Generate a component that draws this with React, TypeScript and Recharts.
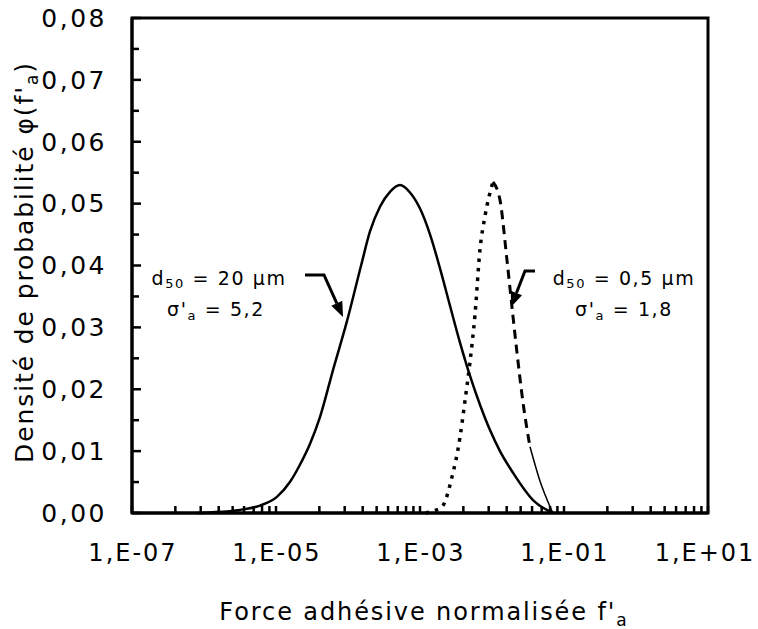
import React from 'react';
import { LineChart, Line, XAxis, YAxis, Customized } from 'recharts';

// --- data (f'a, phi) ---

// d50 = 20 µm, sigma'a = 5,2 (solid)
const coarseCurve = [
  { f: 8.0e-7, phi: 0 },
  { f: 1.21e-6, phi: 0.0001 },
  { f: 3.16e-6, phi: 0.0005 },
  { f: 6.0e-6, phi: 0.0012 },
  { f: 1.03e-5, phi: 0.0026 },
  { f: 1.56e-5, phi: 0.005 },
  { f: 2.15e-5, phi: 0.0078 },
  { f: 2.97e-5, phi: 0.0112 },
  { f: 4.08e-5, phi: 0.0155 },
  { f: 6.19e-5, phi: 0.0231 },
  { f: 9.68e-5, phi: 0.031 },
  { f: 1.52e-4, phi: 0.04 },
  { f: 2.02e-4, phi: 0.0455 },
  { f: 2.78e-4, phi: 0.0495 },
  { f: 3.83e-4, phi: 0.0519 },
  { f: 5.27e-4, phi: 0.053 },
  { f: 7.26e-4, phi: 0.0518 },
  { f: 1.0e-3, phi: 0.0492 },
  { f: 1.38e-3, phi: 0.045 },
  { f: 1.9e-3, phi: 0.0395 },
  { f: 2.61e-3, phi: 0.0335 },
  { f: 3.6e-3, phi: 0.0275 },
  { f: 4.94e-3, phi: 0.0222 },
  { f: 6.81e-3, phi: 0.0175 },
  { f: 9.38e-3, phi: 0.0134 },
  { f: 1.29e-2, phi: 0.01 },
  { f: 1.96e-2, phi: 0.0065 },
  { f: 3.71e-2, phi: 0.0021 },
  { f: 7.03e-2, phi: 0 },
];

// d50 = 0,5 µm, sigma'a = 1,8 : rising side (dotted)
const fineRise = [
  { f: 1.2e-3, phi: 0 },
  { f: 1.5e-3, phi: 0.0003 },
  { f: 2.02e-3, phi: 0.001 },
  { f: 2.78e-3, phi: 0.0058 },
  { f: 3.6e-3, phi: 0.0123 },
  { f: 4.2e-3, phi: 0.018 },
  { f: 4.9e-3, phi: 0.024 },
  { f: 5.8e-3, phi: 0.032 },
  { f: 6.8e-3, phi: 0.0425 },
  { f: 8.0e-3, phi: 0.048 },
  { f: 1.03e-2, phi: 0.0535 },
];

// falling side (dashed)
const fineFall = [
  { f: 1.03e-2, phi: 0.0535 },
  { f: 1.29e-2, phi: 0.0506 },
  { f: 1.61e-2, phi: 0.041 },
  { f: 1.96e-2, phi: 0.0317 },
  { f: 2.22e-2, phi: 0.026 },
  { f: 2.7e-2, phi: 0.0178 },
  { f: 3.37e-2, phi: 0.0107 },
];

// tail (thin solid)
const fineTail = [
  { f: 3.37e-2, phi: 0.0107 },
  { f: 4.6e-2, phi: 0.0053 },
  { f: 7.0e-2, phi: 0 },
];

const majorTicks = [1e-7, 1e-5, 1e-3, 1e-1, 1e1];
const majorLabels = ['1,E-07', '1,E-05', '1,E-03', '1,E-01', '1,E+01'];
const minorSteps = [4, 9, 16, 25, 36, 49, 64, 81];
const yTicks = [0, 0.005, 0.01, 0.015, 0.02, 0.025, 0.03, 0.035, 0.04, 0.045, 0.05, 0.055, 0.06, 0.065, 0.07, 0.075, 0.08];

const xTicks = majorTicks.flatMap((m, i) =>
  i < majorTicks.length - 1 ? [m, ...minorSteps.map((k) => m * k)] : [m]
);

const W = 758;
const H = 629;
const PL = 132;
const PT = 18;
const PR = 708;
const PB = 513;

const FONT = '"DejaVu Sans", Verdana, sans-serif';

const XTick = (props: any) => {
  const { x, y, payload } = props;
  const idx = majorTicks.indexOf(payload.value);
  return (
    <g>
      <line x1={x} x2={x} y1={y} y2={y - 7} stroke="#000" strokeWidth={2.5} />
      {idx >= 0 && (
        <text x={idx === majorTicks.length - 1 ? x - 3 : x + 1} y={y + 40} dy="0.35em" textAnchor="middle"
          fontFamily={FONT} fontSize={24} style={{ letterSpacing: 2 }} fill="#000">
          {majorLabels[idx]}
        </text>
      )}
    </g>
  );
};

const YTick = (props: any) => {
  const { x, y, payload } = props;
  const v = payload.value as number;
  const major = Math.abs(Math.round(v * 100) - v * 100) < 1e-6;
  return (
    <g>
      <line x1={x} x2={x + (major ? 9 : 7)} y1={y} y2={y} stroke="#000" strokeWidth={2.5} />
      {major && (
        <text x={x - 25} y={y} dy="0.35em" textAnchor="end" fontFamily={FONT} fontSize={25}
          style={{ letterSpacing: 2.5 }} fill="#000">
          {v.toFixed(2).replace('.', ',')}
        </text>
      )}
    </g>
  );
};

const Arrow = ({ pts }: { pts: number[][] }) => {
  const n = pts.length;
  const [tx, ty] = pts[n - 1];
  const [sx, sy] = pts[n - 2];
  const len = Math.hypot(tx - sx, ty - sy);
  const ux = (tx - sx) / len;
  const uy = (ty - sy) / len;
  const hl = 15;
  const hw = 6;
  const bx = tx - ux * hl;
  const by = ty - uy * hl;
  const line = pts.slice(0, n - 1).concat([[bx, by]]).map((p) => p.join(',')).join(' ');
  return (
    <g>
      <polyline points={line} fill="none" stroke="#000" strokeWidth={3} />
      <polygon
        points={`${tx},${ty} ${bx - uy * hw},${by + ux * hw} ${bx + uy * hw},${by - ux * hw}`}
        fill="#000"
      />
    </g>
  );
};

const Overlay = () => (
  <g>
    <rect x={PL} y={PT} width={PR - PL} height={PB - PT} fill="none" stroke="#000" strokeWidth={3} />
    <g fontFamily={FONT} fill="#000" style={{ letterSpacing: 1.6 }}>
      <text x={219} y={285} fontSize={19} textAnchor="middle">
        d<tspan fontSize={13} dy={3}>50</tspan>
        <tspan dy={-3}> = 20 µm</tspan>
      </text>
      <text x={216} y={316} fontSize={19} textAnchor="middle">
        σ'<tspan fontSize={13} dy={4}>a</tspan>
        <tspan dy={-4}> = 5,2</tspan>
      </text>
      <text x={624} y={285} fontSize={19} textAnchor="middle">
        d<tspan fontSize={13} dy={3}>50</tspan>
        <tspan dy={-3}> = 0,5 µm</tspan>
      </text>
      <text x={624} y={316} fontSize={19} textAnchor="middle">
        σ'<tspan fontSize={13} dy={4}>a</tspan>
        <tspan dy={-4}> = 1,8</tspan>
      </text>
    </g>
    <Arrow pts={[[305, 275], [324, 275], [343, 317]]} />
    <Arrow pts={[[535, 271], [525, 271], [511, 307]]} />
    <text x={33} y={262} transform="rotate(-90 33 262)" textAnchor="middle" fontFamily={FONT}
      fontSize={25} style={{ letterSpacing: 1.9 }} fill="#000">
      Densité de probabilité φ(f'<tspan fontSize={17} dy={5}>a</tspan>
      <tspan dy={-5}>)</tspan>
    </text>
    <text x={424} y={620} textAnchor="middle" fontFamily={FONT} fontSize={24}
      style={{ letterSpacing: 1.9 }} fill="#000">
      Force adhésive normalisée f'<tspan fontSize={17} dy={6}>a</tspan>
    </text>
  </g>
);

export default function App() {
  return (
    <div style={{ width: W, height: H }}>
      <style>{'body{margin:0;overflow:hidden}'}</style>
      <LineChart
        width={W}
        height={H}
        margin={{ top: PT, right: W - PR, left: PL - 80, bottom: H - PB - 60 }}
      >
        <XAxis
          dataKey="f"
          type="number"
          scale="log"
          domain={[1e-7, 10]}
          allowDataOverflow
          ticks={xTicks}
          interval={0}
          height={60}
          tickSize={0}
          tickMargin={0}
          tickLine={false}
          axisLine={{ stroke: '#000', strokeWidth: 3 }}
          tick={<XTick />}
        />
        <YAxis
          dataKey="phi"
          type="number"
          domain={[0, 0.08]}
          ticks={yTicks}
          interval={0}
          width={80}
          tickSize={0}
          tickMargin={0}
          tickLine={false}
          axisLine={{ stroke: '#000', strokeWidth: 3 }}
          tick={<YTick />}
        />
        <Line data={coarseCurve} dataKey="phi" type="monotone" stroke="#000" strokeWidth={2.5}
          dot={false} isAnimationActive={false} />
        <Line data={fineRise} dataKey="phi" type="monotone" stroke="#000" strokeWidth={3.5}
          strokeDasharray="3.5 6" dot={false} isAnimationActive={false} />
        <Line data={fineFall} dataKey="phi" type="monotone" stroke="#000" strokeWidth={3}
          strokeDasharray="9 6" dot={false} isAnimationActive={false} />
        <Line data={fineTail} dataKey="phi" type="monotone" stroke="#000" strokeWidth={1.5}
          dot={false} isAnimationActive={false} />
        <Customized component={Overlay} />
      </LineChart>
    </div>
  );
}
